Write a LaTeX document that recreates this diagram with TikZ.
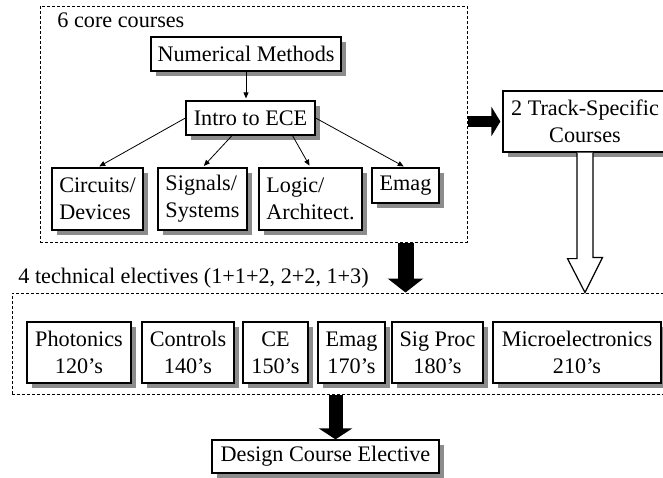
\documentclass[tikz,border=0pt]{standalone}
\usepackage{fontspec}
\setmainfont{Liberation Serif}
\usetikzlibrary{arrows.meta,shadows}

\begin{document}
\begin{tikzpicture}[x=0.5pt,y=-0.5pt,font=\fontsize{11.1}{13.5}\selectfont] % 1 unit = 1 pixel, y down

\tikzstyle{course} = [draw,fill=white,line width=0.6pt,inner sep=2pt,drop shadow={shadow xshift=2.5pt,shadow yshift=-2.5pt,fill=black!45,opacity=1}];
\tikzstyle{group} = [draw,line width=0.5pt,dash pattern=on 1.5pt off 1pt,inner sep=0];
\tikzstyle{thinarrow}=[-{Triangle[length=3pt,width=2.5pt]},line width=0.4pt,shorten >=1pt];
\tikzstyle{bigarrow}=[line width=8pt,-{Triangle[length=7pt,width=17.5pt]}];

\useasboundingbox (0,0) rectangle (663,477);

% core courses
\node[group,minimum width=213.5pt,minimum height=118pt] (core) at (253.5,124) {};
\node[anchor=base west,inner sep=0] (t1) at (57,27) {6 core courses};
\node[course,minimum width=95pt,minimum height=17pt] (v1) at (246,54) {Numerical Methods};
\node[course,minimum width=64.5pt,minimum height=17pt] (v2) at (250.5,118) {Intro to ECE};
\node[course,align=left,minimum width=45.5pt,minimum height=31pt] (v3) at (97.5,199) {Circuits/\\Devices};
\node[course,align=left,minimum width=44.5pt,minimum height=31pt] (v4) at (202.5,199) {Signals/\\Systems};
\node[course,align=left,minimum width=51.5pt,minimum height=31pt] (v5) at (310.5,199) {Logic/\\Architect.};
\node[course,minimum width=33.5pt,minimum height=17.5pt] (v6) at (405.5,185.5) {Emag};

\draw[thinarrow] (v1.south) -- (v1.south |- v2.north);
\draw[thinarrow] (v2.west) -- (v3.north);
\draw[thinarrow] ([xshift=-9.25pt]v2.south) -- (v4.north);
\draw[thinarrow] ([xshift=21pt]v2.south) -- (v5.north);
\draw[thinarrow] (v2.east) -- (v6.north);

% track courses
\node[course,align=center,minimum width=82pt,minimum height=30.5pt] (v7) at (585,121.5) {2 Track-Specific\\Courses};
\draw[line width=5.5pt,-{Triangle[length=4.5pt,width=14.5pt]}] (core.east |- v7.west) -- ([xshift=-1pt]v7.west);

% technical electives
\node[group,minimum width=344pt,minimum height=50.5pt] (elec) at (356,343.5) {};
\node[anchor=base west,inner sep=0] (t2) at (18,283) {4 technical electives (1+1+2, 2+2, 1+3)};
\node[course,align=center,minimum width=52pt,minimum height=30.5pt] (v8) at (79,352.5) {Photonics\\120's};
\node[course,align=center,minimum width=46pt,minimum height=30.5pt] (v9) at (188,352.5) {Controls\\140's};
\node[course,align=center,minimum width=32.5pt,minimum height=30.5pt] (v10) at (275.5,352.5) {CE\\150's};
\node[course,align=center,minimum width=33.5pt,minimum height=30.5pt] (v11) at (351.5,352.5) {Emag\\170's};
\node[course,align=center,minimum width=45.5pt,minimum height=30.5pt] (v12) at (437.5,352.5) {Sig Proc\\180's};
\node[course,align=center,minimum width=84pt,minimum height=30.5pt] (v13) at (577,352.5) {Microelectronics\\210's};

\draw[bigarrow] (v6 |- core.south) -- (v6 |- elec.north);
\draw[line width=0.6pt,fill=white] ([xshift=-4pt]v7.south) -- ++(0,106) -- ++(-9.5,0) -- (v7.south |- elec.north)
  -- ++(17.5,-35) -- ++(-9.5,0) -- ([xshift=4pt]v7.south);

% design
\node[course,minimum width=113.5pt,minimum height=16.5pt] (v14) at (325.5,456.5) {Design Course Elective};
\draw[line width=7pt,-{Triangle[length=5.5pt,width=16.5pt]}] ([xshift=5pt]v14.north |- elec.south) -- ([xshift=5pt]v14.north);
\end{tikzpicture}
\end{document}
